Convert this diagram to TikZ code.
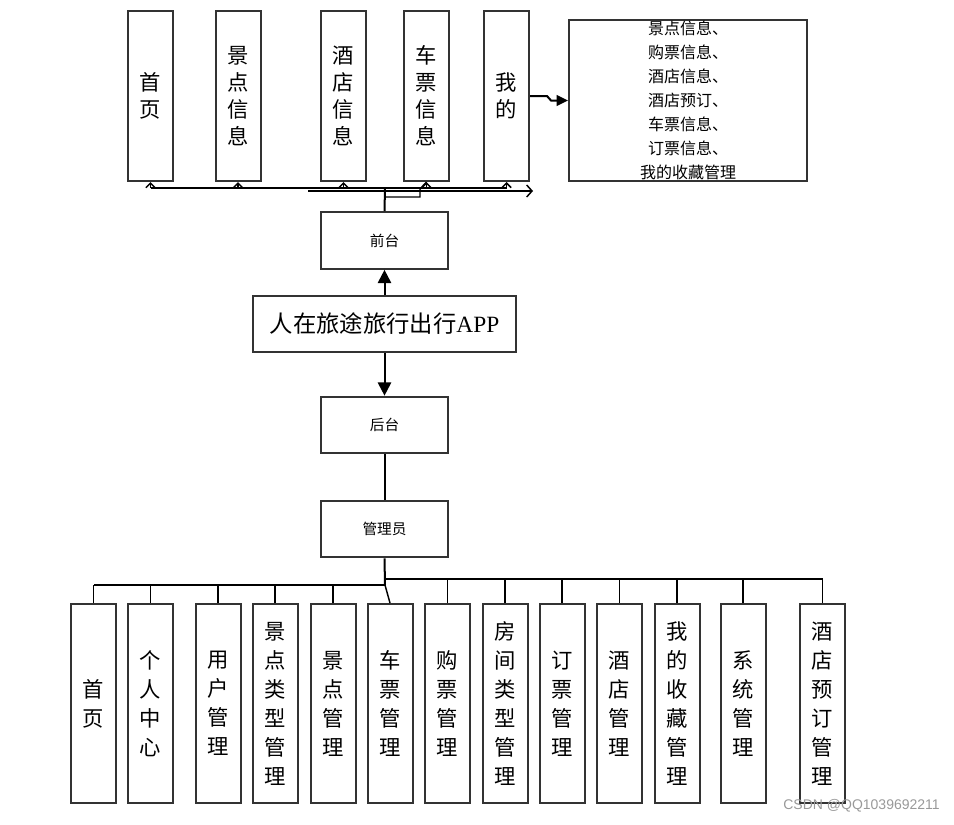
\documentclass[tikz,border=0pt]{standalone}
\usepackage{fontspec}
\setmainfont{Liberation Serif}
\newfontfamily\cjk{Noto Sans CJK SC}
\newfontfamily\wmfont{Liberation Sans}
\usetikzlibrary{arrows.meta}
\begin{document}
\begin{tikzpicture}[x=0.75pt,y=-0.75pt,
  box/.style={draw=black!80, line width=1.5pt, fill=white, inner sep=0pt, align=center},
  topbox/.style={box, minimum width=33.75pt, minimum height=127.5pt, font=\cjk\fontsize{16}{20.25}\selectfont},
  botbox/.style={box, minimum width=33.75pt, minimum height=149.25pt, font=\cjk\fontsize{16}{21.75}\selectfont},
  midbox/.style={box, minimum width=95.25pt, minimum height=42.5pt, font=\cjk\fontsize{11}{13}\selectfont},
  link/.style={draw=black, line width=1.5pt},
  thin/.style={draw=black, line width=1.1pt},
  uptip/.style={thin, -{Straight Barb[length=3.5pt,width=7pt]}},
  bigtip/.style={link, -{Triangle[length=10pt,width=10pt]}}
]
\useasboundingbox (0,0) rectangle (954,825);

% top boxes
\node[topbox] (t1) at (150.5,96) {首\\页};
\node[topbox] (t2) at (238,96) {景\\点\\信\\息};
\node[topbox] (t3) at (343.5,96) {酒\\店\\信\\息};
\node[topbox] (t4) at (426.5,96) {车\\票\\信\\息};
\node[topbox] (t5) at (506.5,96) {我\\的};
\node[box, minimum width=178.5pt, minimum height=120.75pt, font=\cjk\fontsize{12}{18}\selectfont] (detail) at (688,100.5)
  {景点信息、\\购票信息、\\酒店信息、\\酒店预订、\\车票信息、\\订票信息、\\我的收藏管理};

% middle boxes
\node[midbox] (front) at (384.5,240.5) {前台};
\node[box, minimum width=197.25pt, minimum height=42pt, font=\cjk\fontsize{17.5}{20}\selectfont] (app) at (384.5,324) {人在旅途旅行出行{\rmfamily APP}};
\node[midbox] (back) at (384.5,425) {后台};
\node[midbox] (admin) at (384.5,529) {管理员};

% bottom boxes
\node[botbox] (b1) at (93.5,703.5) {首\\页};
\node[botbox] (b2) at (150.5,703.5) {个\\人\\中\\心};
\node[botbox] (b3) at (218,703.5) {用\\户\\管\\理};
\node[botbox] (b4) at (275,703.5) {景\\点\\类\\型\\管\\理};
\node[botbox] (b5) at (333,703.5) {景\\点\\管\\理};
\node[botbox] (b6) at (390,703.5) {车\\票\\管\\理};
\node[botbox] (b7) at (447.5,703.5) {购\\票\\管\\理};
\node[botbox] (b8) at (505,703.5) {房\\间\\类\\型\\管\\理};
\node[botbox] (b9) at (562,703.5) {订\\票\\管\\理};
\node[botbox] (b10) at (619.5,703.5) {酒\\店\\管\\理};
\node[botbox] (b11) at (677,703.5) {我\\的\\收\\藏\\管\\理};
\node[botbox] (b12) at (743,703.5) {系\\统\\管\\理};
\node[botbox] (b13) at (822.5,703.5) {酒\\店\\预\\订\\管\\理};

% top connectors
\coordinate (hub) at (385,188);
\coordinate (barL) at (150.5,188);
\coordinate (barR) at (506.5,188);
\coordinate (secL) at (308,191);
\coordinate (secR) at (533,191);
\coordinate (thrL) at (385,197);
\coordinate (thrM) at (420,197);
\coordinate (thrT) at (420,189);
\draw[link] (front.north) -- (hub);
\draw[link] (barL) -- (barR);
\foreach \b in {t1,t2,t3,t4,t5} {
  \draw[uptip] (\b.south |- hub) -- (\b.south);
}
\draw[thin, -{Straight Barb[length=4pt,width=9pt]}] (secL) -- (secR);
\draw[thin] (thrL) -- (thrM) -- (thrT) -- (t4.south);

% detail arrow
\coordinate (d1) at (547,96);
\coordinate (d2) at (551,100.5);
\draw[link, -{Triangle[length=8.5pt,width=8pt]}] (t5.east |- d1) -- (d1) -- (d2) -- (detail.west);

% middle connectors
\draw[bigtip] (app.north) -- (front.south);
\draw[bigtip] (app.south) -- (back.north);
\draw[link] (back.south) -- (admin.north);

% bottom connectors
\coordinate (lbar) at (385,585);
\coordinate (rbar) at (385,579);
\draw[link] (admin.south) -- (lbar);
\draw[draw=black, line width=1.8pt] (lbar) -- (b1.north |- lbar);
\draw[draw=black, line width=1.6pt] (rbar) -- (b13.north |- rbar);
\foreach \b in {b1,b2,b3,b4,b5} {
  \draw[thin] (\b.north |- lbar) -- (\b.north);
}
\draw[thin] (lbar) -- (b6.north);
\foreach \b in {b7,b8,b9,b10,b11,b12,b13} {
  \draw[thin] (\b.north |- rbar) -- (\b.north);
}

% watermark
\node[anchor=east, text=black!40, font=\wmfont\fontsize{10.5}{12}\selectfont, inner sep=0pt] (wm) at (940,806) {CSDN @QQ1039692211};
\end{tikzpicture}
\end{document}
